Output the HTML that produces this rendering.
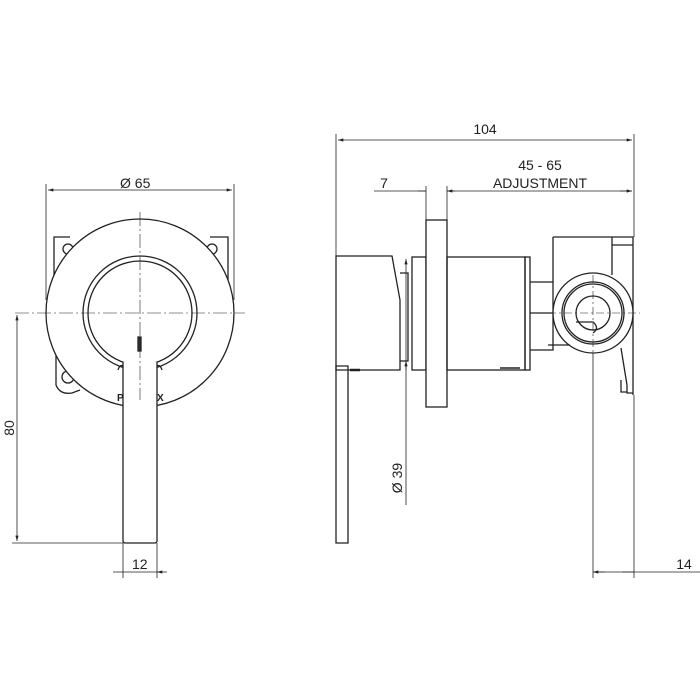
<!DOCTYPE html>
<html><head><meta charset="utf-8"><style>html,body{margin:0;padding:0;background:#fff}svg{display:block}</style></head><body>
<svg width="700" height="700" viewBox="0 0 700 700" xmlns="http://www.w3.org/2000/svg" font-family="Liberation Sans, sans-serif">
<defs><marker id="a" viewBox="0 0 10 6" refX="10" refY="3" markerWidth="8" markerHeight="4" orient="auto-start-reverse"><path d="M0,0L10,3L0,6z" fill="#222"/></marker></defs>
<g stroke="#222" fill="none" stroke-width="1.3">
<!-- LEFT VIEW -->
<path d="M46,184V300M234,184V300" stroke-width="0.8"/>
<path d="M48,190H232" stroke-width="0.8" marker-start="url(#a)" marker-end="url(#a)"/>
<path d="M70,237H54V280M210,237H228V280" />
<circle cx="68" cy="249" r="5"/><circle cx="212" cy="249" r="5"/>
<path d="M56,355V385Q60,395 72,393L80,390"/>
<circle cx="68" cy="377" r="6"/>
<circle cx="140" cy="313" r="94" fill="#fff"/>
<circle cx="140" cy="313" r="57"/>
<circle cx="140" cy="313" r="52"/>
<path d="M123,362V541Q123,543 126,543H154Q157,543 157,541V362" fill="#fff"/>
<path d="M123,366Q120,364 118,370M157,366Q160,364 162,370"/>
<rect x="138" y="337" width="3" height="14" fill="#333"/>
<path d="M140,212V400M15,313H245" stroke-width="0.6" stroke-dasharray="14,3,2,3"/>
<path d="M12,543H123" stroke-width="0.8"/>
<path d="M17,315V541" stroke-width="0.8" marker-start="url(#a)" marker-end="url(#a)"/>
<path d="M123,543V578M157,543V578" stroke-width="0.8"/>
<path d="M113,572H123M167,572H157" stroke-width="0.8" marker-end="url(#a)"/>
<path d="M123,572H157" stroke-width="0.8"/>
<!-- RIGHT VIEW -->
<path d="M336,134V540M634,134V237" stroke-width="0.8"/>
<path d="M338,140H632" stroke-width="0.8" marker-start="url(#a)" marker-end="url(#a)"/>
<path d="M374,191H426M447,191H632" stroke-width="0.8"/>
<path d="M426,186V220M447,186V220" stroke-width="0.8"/>
<path d="M418,191H426M455,191H447" stroke-width="0.8" marker-end="url(#a)"/>
<path d="M632,191H620" stroke-width="0.8" marker-start="url(#a)"/>
<path d="M336,256H392L400,300V370H336Z"/>
<path d="M400,273H408V361H400"/>
<rect x="412" y="257" width="14" height="113"/>
<rect x="426" y="220" width="21" height="187" fill="#fff"/>
<rect x="447" y="257" width="78" height="113"/>
<rect x="525" y="257" width="5" height="113"/>
<path d="M530,282H553V350H530M530,313H553"/>
<path d="M553,237H633V395M553,237V282M612,237V275M612,245H633"/>
<path d="M336,366H348V543H336Z"/>
<path d="M350,370H360" stroke-width="2.5"/>
<path d="M500,368H520" stroke-width="1.5"/>
<circle cx="593" cy="313" r="40" fill="#fff"/>
<circle cx="593" cy="313" r="31"/>
<circle cx="593" cy="313" r="29"/>
<circle cx="593" cy="313" r="17"/>
<path d="M576,322H593Q600,328 593,333"/>
<path d="M621,348L627,385V393H633M621,380V392H627"/>
<path d="M548,345H570"/>
<path d="M593,275V353M548,313H640" stroke-width="0.6" stroke-dasharray="8,3,2,3"/>
<path d="M593,353V578" stroke-width="0.8"/>
<path d="M634,395V578" stroke-width="0.8"/>
<path d="M406,259V505" stroke-width="0.8" marker-start="url(#a)"/>
<path d="M406,370V361" stroke-width="0.8" marker-end="url(#a)"/>
<path d="M593,572H605M634,572H622" stroke-width="0.8" marker-start="url(#a)"/>
<path d="M593,572H700" stroke-width="0.8"/>
</g>
<g fill="#222" font-size="14">
<text x="120" y="188">Ø 65</text>
<text x="132" y="569">12</text>
<text x="14" y="428" transform="rotate(-90 14 428)" text-anchor="middle">80</text>
<text x="485" y="134" text-anchor="middle">104</text>
<text x="540" y="170" text-anchor="middle">45 - 65</text>
<text x="540" y="188" text-anchor="middle">ADJUSTMENT</text>
<text x="384" y="188" text-anchor="middle">7</text>
<text x="402" y="478" transform="rotate(-90 402 478)" text-anchor="middle">Ø 39</text>
<text x="684" y="569" text-anchor="middle">14</text>
<text x="117" y="401" font-size="10" font-weight="bold">P</text>
<text x="157" y="401" font-size="10" font-weight="bold">X</text>
</g>
</svg>
</body></html>
